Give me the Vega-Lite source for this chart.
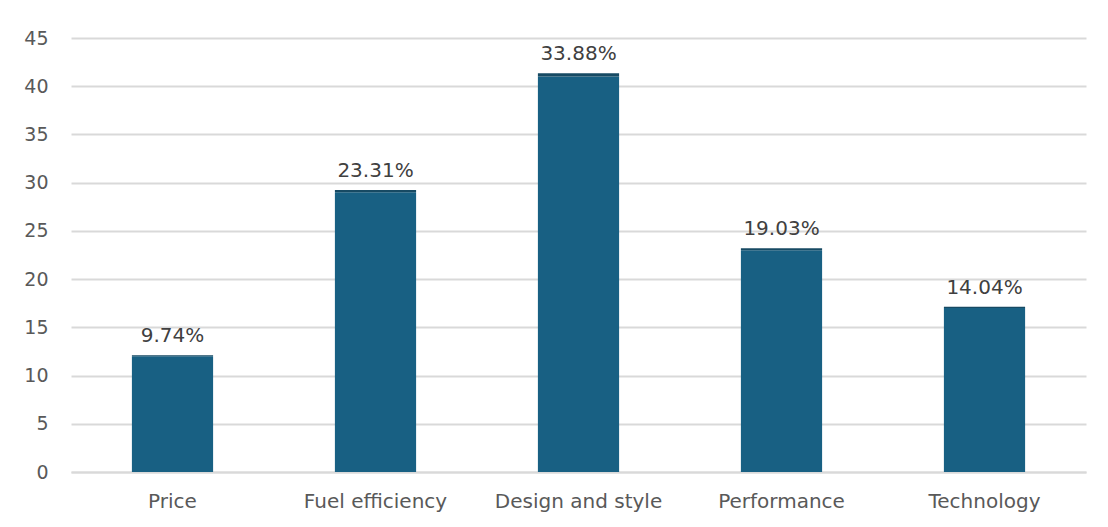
{
  "$schema": "https://vega.github.io/schema/vega-lite/v6.json",
  "width": 1015,
  "height": 434,
  "autosize": {"type": "none"},
  "padding": {"left": 71, "top": 38, "right": 22, "bottom": 55},
  "background": "#ffffff",
  "data": {
    "values": [
      {"factor": "Price", "count": 12, "share": 0.0974},
      {"factor": "Fuel efficiency", "count": 29, "share": 0.2331},
      {"factor": "Design and style", "count": 41, "share": 0.3388},
      {"factor": "Performance", "count": 23, "share": 0.1903},
      {"factor": "Technology", "count": 17, "share": 0.1404}
    ]
  },
  "transform": [
    {"fold": ["count", "share"], "as": ["series", "value"]},
    {"stack": "value", "groupby": ["factor"], "sort": [{"field": "series", "order": "ascending"}], "as": ["v0", "v1"]}
  ],
  "encoding": {
    "x": {
      "field": "factor",
      "type": "nominal",
      "sort": ["Price", "Fuel efficiency", "Design and style", "Performance", "Technology"],
      "scale": {"paddingInner": 0.6, "paddingOuter": 0.3},
      "axis": {
        "title": null,
        "labelAngle": 0,
        "labelFont": "DejaVu Sans",
        "labelFontSize": 20,
        "labelColor": "#595959",
        "labelPadding": 19,
        "ticks": false,
        "domainColor": "#d9d9d9",
        "domainWidth": 2
      }
    }
  },
  "layer": [
    {
      "mark": {"type": "bar"},
      "encoding": {
        "y": {
          "field": "v0",
          "type": "quantitative",
          "scale": {"domain": [0, 45], "nice": false},
          "axis": {
            "title": null,
            "values": [0, 5, 10, 15, 20, 25, 30, 35, 40, 45],
            "labelFont": "DejaVu Sans",
            "labelFontSize": 19,
            "labelColor": "#595959",
            "labelPadding": 23,
            "ticks": false,
            "domain": false,
            "gridColor": "#d9d9d9",
            "gridWidth": 2
          }
        },
        "y2": {"field": "v1"},
        "color": {
          "field": "series",
          "type": "nominal",
          "scale": {"domain": ["count", "share"], "range": ["#186083", "#174a63"]},
          "legend": null
        }
      }
    },
    {
      "transform": [{"filter": "datum.series === 'share'"}],
      "mark": {
        "type": "text",
        "font": "DejaVu Sans",
        "fontSize": 20,
        "color": "#404040",
        "baseline": "alphabetic",
        "dy": -13
      },
      "encoding": {
        "y": {"field": "v1", "type": "quantitative"},
        "text": {"field": "value", "type": "quantitative", "format": ".2%"}
      }
    }
  ],
  "config": {
    "view": {"stroke": null}
  }
}
